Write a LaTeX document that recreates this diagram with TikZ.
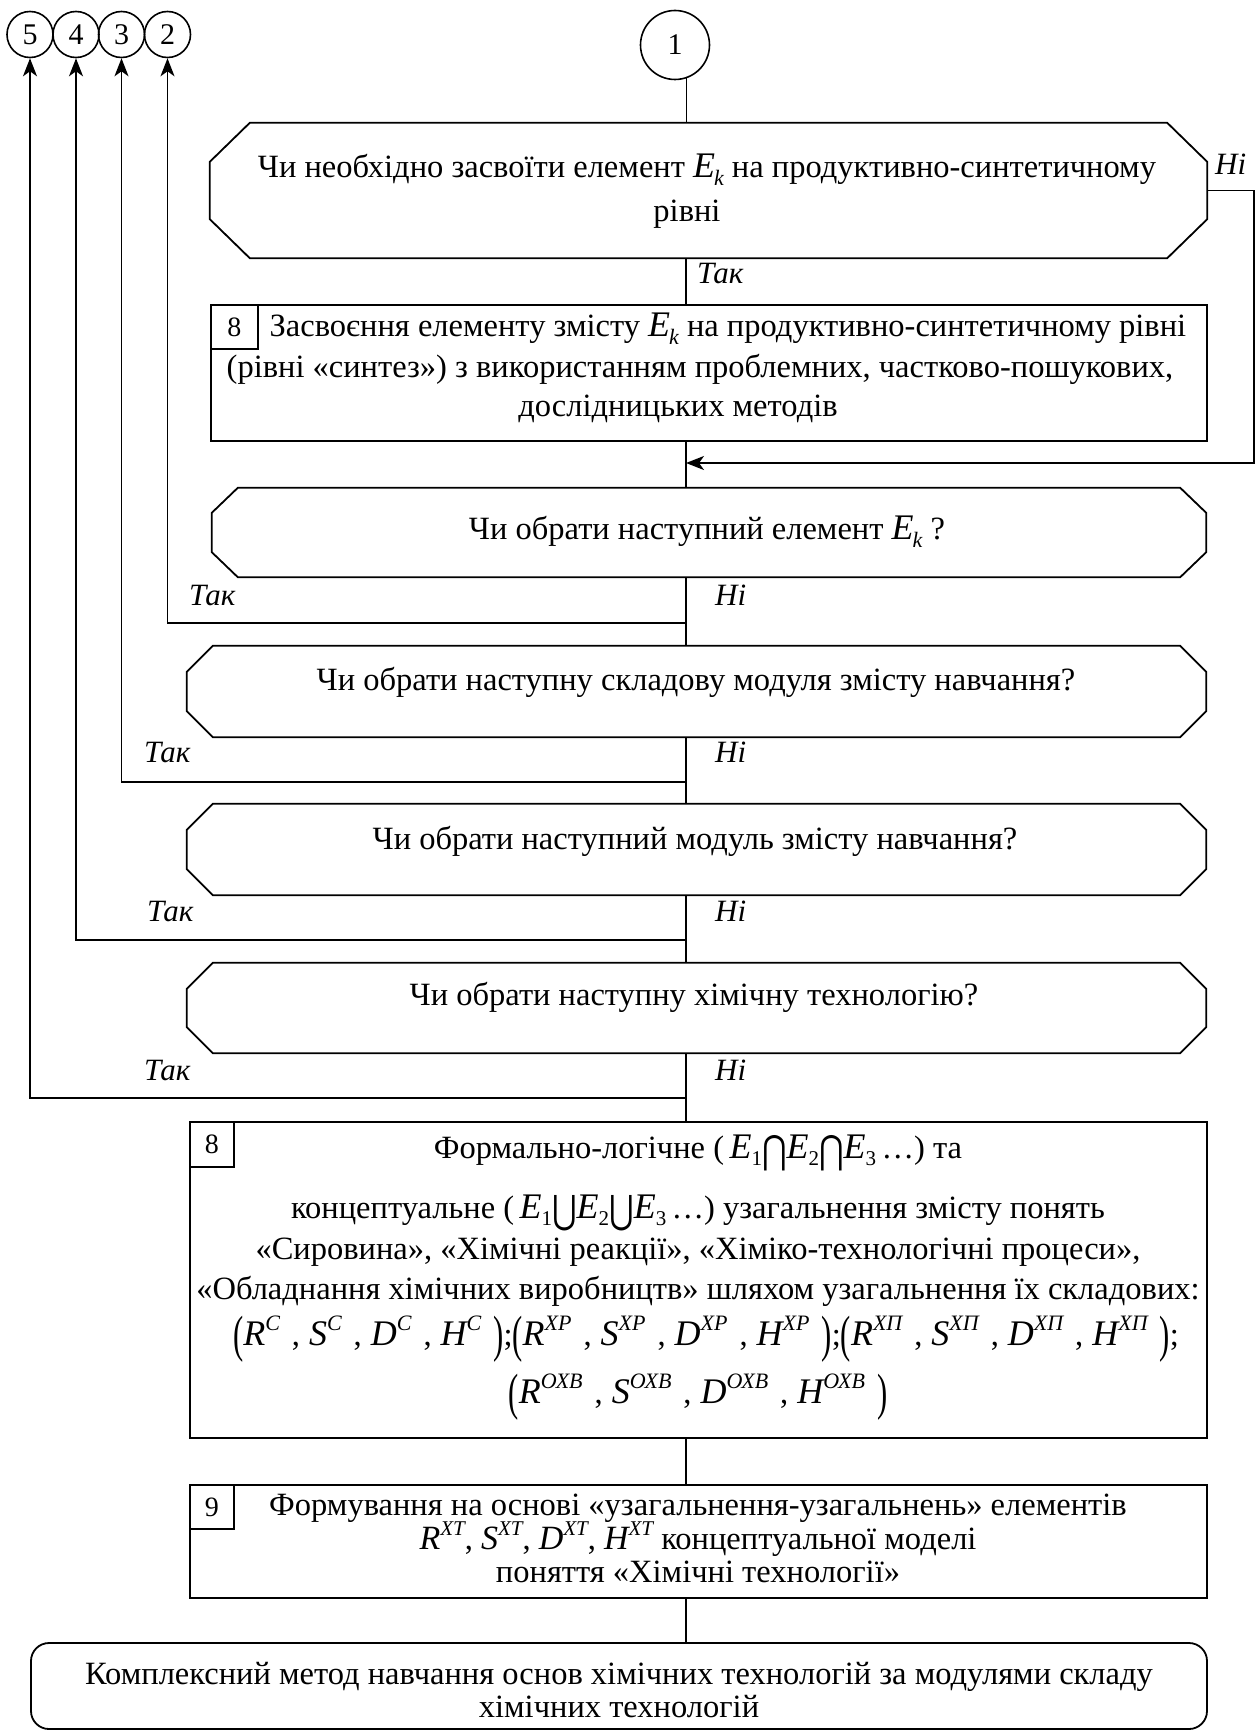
\documentclass[tikz,border=0pt]{standalone}
\usepackage{graphicx}
\usepackage{fontspec}
\setmainfont{Liberation Serif}
\newfontfamily\symfont{DejaVu Sans}
\usetikzlibrary{arrows.meta,calc}

% italic letters, indices and operators used in the formulas
\newcommand\Vi[1]{{\itshape\fontsize{36}{36}\selectfont #1}}
\newcommand\Vm[1]{{\itshape\fontsize{34}{34}\selectfont #1}}
\newcommand\Up[1]{\raisebox{15pt}{\itshape\fontsize{22}{22}\selectfont #1}}
\newcommand\Us[1]{\raisebox{14pt}{\itshape\fontsize{21}{21}\selectfont #1}}
\newcommand\Dn[1]{\raisebox{-7pt}{\fontsize{21}{21}\selectfont #1}}
\newcommand\Ek{\Vi{E}\kern-1pt\raisebox{-8pt}{\itshape\fontsize{22}{22}\selectfont k}}
\newcommand\Item[2]{\Vi{#1}\Up{#2}\hspace{12pt}}
\newcommand\Cm{,\hspace{9pt}}
\newcommand\Cap{\raisebox{-5pt}{\scalebox{1}[1.3]{\symfont\fontsize{30}{30}\selectfont ⋂}}}
\newcommand\Cup{\raisebox{-5pt}{\scalebox{1}[1.3]{\symfont\fontsize{30}{30}\selectfont ⋃}}}
\newcommand\Lp{\raisebox{-6pt}{\scalebox{0.9}[1.5]{\fontsize{34}{34}\selectfont (}}}
\newcommand\Rp{\raisebox{-6pt}{\scalebox{0.9}[1.5]{\fontsize{34}{34}\selectfont )}}}
\newcommand\Grp[1]{\Lp#1\Rp}
\newcommand\Quad[1]{\Grp{\Item{R}{#1}\Cm\Item{S}{#1}\Cm\Item{D}{#1}\Cm\Item{H}{#1}}}

% octagonal decision outline around a named node: node, corner dx, corner dy
\newcommand\octo[3]{\draw[flow]
  ($(#1.north west)+(#2,0)$) -- ($(#1.north east)+(-#2,0)$) --
  ($(#1.north east)+(0,#3)$) -- ($(#1.south east)+(0,-#3)$) --
  ($(#1.south east)+(-#2,0)$) -- ($(#1.south west)+(#2,0)$) --
  ($(#1.south west)+(0,-#3)$) -- ($(#1.north west)+(0,#3)$) -- cycle;}

\begin{document}
\begin{tikzpicture}[x=1pt,y=-1pt,
  flow/.style={line width=1.8pt,line join=miter},
  arr/.style={flow,-{Stealth[length=18pt,width=14pt,inset=5pt]}},
  hole/.style={draw=none,rectangle,inner sep=0pt},
  box/.style={draw,rectangle,line width=1.8pt,inner sep=0pt},
  tag/.style={draw,rectangle,line width=1.6pt,inner sep=0pt,anchor=north west,
    font=\fontsize{28}{28}\selectfont},
  txt/.style={anchor=base,inner sep=0pt,font=\fontsize{32.5}{38}\selectfont},
  lab/.style={anchor=base west,inner sep=0pt,font=\fontsize{31}{34}\selectfont\itshape},
  conn/.style={draw,circle,line width=1.6pt,inner sep=0pt,font=\fontsize{30}{30}\selectfont}]

\useasboundingbox (0,0) rectangle (1258,1731);

% connector circles
\node[conn,minimum size=69pt] (c1) at (675,45) {1};
\node[conn,minimum size=46pt] (c5) at (30,34.5) {5};
\node[conn,minimum size=46pt] (c4) at (76,34.5) {4};
\node[conn,minimum size=46pt] (c3) at (121.5,34.5) {3};
\node[conn,minimum size=46pt] (c2) at (167.5,34.5) {2};

% shapes
\node[hole,minimum width=997pt,minimum height=135pt] (d1) at (708.5,190.5) {};
\octo{d1}{40}{39}
\node[box,minimum width=996pt,minimum height=136pt] (b1) at (709,373) {};
\node[hole,minimum width=994pt,minimum height=89pt] (d2) at (709,532.5) {};
\octo{d2}{26}{25}
\node[hole,minimum width=1019pt,minimum height=91pt] (d3) at (696.5,691.5) {};
\octo{d3}{26}{26}
\node[hole,minimum width=1019pt,minimum height=91pt] (d4) at (696.5,849.5) {};
\octo{d4}{26}{26}
\node[hole,minimum width=1019pt,minimum height=90pt] (d5) at (696.5,1008) {};
\octo{d5}{26}{26}
\node[box,minimum width=1017pt,minimum height=316pt] (b8) at (698.5,1280) {};
\node[box,minimum width=1017pt,minimum height=113pt] (b9) at (698.5,1541.5) {};
\node[box,rounded corners=18pt,minimum width=1176pt,minimum height=86pt] (term) at (619,1686) {};

% number tags
\node[tag,minimum width=47pt,minimum height=44pt] (t1) at (b1.north west) {8};
\node[tag,minimum width=44pt,minimum height=45pt] (t8) at (b8.north west) {8};
\node[tag,minimum width=44pt,minimum height=44pt] (t9) at (b9.north west) {9};

% texts
\node[txt] (d1a) at (707,178) {Чи необхідно засвоїти елемент \Ek\ на продуктивно-синтетичному};
\node[txt] (d1b) at (687,222) {рівні};
\node[txt] (b1a) at (728,336) {Засвоєння елементу змісту \Ek\ на продуктивно-синтетичному рівні};
\node[txt] (b1b) at (700,377) {(рівні «синтез») з використанням проблемних, частково-пошукових,};
\node[txt] (b1c) at (678,416) {дослідницьких методів};
\node[txt] (d2a) at (707,539) {Чи обрати наступний елемент \Ek\ ?};
\node[txt] (d3a) at (696,690) {Чи обрати наступну складову модуля змісту навчання?};
\node[txt] (d4a) at (695,849) {Чи обрати наступний модуль змісту навчання?};
\node[txt] (d5a) at (694,1005) {Чи обрати наступну хімічну технологію?};

\node[txt] (b8a) at (698,1158) {Формально-логічне (\,\Vi{E}\Dn{1}\Cap\Vi{E}\Dn{2}\Cap\Vi{E}\Dn{3}\,…) та};
\node[txt] (b8b) at (698,1218) {концептуальне (\,\Vi{E}\Dn{1}\Cup\Vi{E}\Dn{2}\Cup\Vi{E}\Dn{3}\,…) узагальнення змісту понять};
\node[txt] (b8c) at (698,1259) {«Сировина», «Хімічні реакції», «Хіміко-технологічні процеси»,};
\node[txt] (b8d) at (698,1299) {«Обладнання хімічних виробництв» шляхом узагальнення їх складових:};
\node[txt] (b8e) at (706,1345) {\Quad{С};\Quad{ХР};\Quad{ХП};};
\node[txt] (b8f) at (698,1403) {\Quad{ОХВ}};

\node[txt] (b9a) at (698,1515) {Формування на основі «узагальнення-узагальнень» елементів};
\node[txt] (b9b) at (698,1549) {\Vm{R}\Us{ХТ}, \Vm{S}\Us{ХТ}, \Vm{D}\Us{ХТ}, \Vm{H}\Us{ХТ} концептуальної моделі};
\node[txt] (b9c) at (698,1582) {поняття «Хімічні технології»};
\node[txt] (tma) at (619,1684) {Комплексний метод навчання основ хімічних технологій за модулями складу};
\node[txt] (tmb) at (619,1717) {хімічних технологій};

% branch labels
\node[lab] (tak1) at (697,283) {Так};
\node[lab] (ni1) at (1215,175) {Ні};
\node[lab] (tak2) at (189,605) {Так};
\node[lab] (ni2) at (715,605) {Ні};
\node[lab] (tak3) at (144,762) {Так};
\node[lab] (ni3) at (715,762) {Ні};
\node[lab] (tak4) at (147,921) {Так};
\node[lab] (ni4) at (715,921) {Ні};
\node[lab] (tak5) at (144,1080) {Так};
\node[lab] (ni5) at (715,1080) {Ні};

% main line
\coordinate (spine) at (686,0);
\draw[flow] (c1.-71) -- (c1.-71 |- d1.north);
\draw[flow] (d1.south -| spine) -- (b1.north -| spine);
\draw[flow] (b1.south -| spine) -- (d2.north -| spine);
\draw[flow] (d2.south -| spine) -- (d3.north -| spine);
\draw[flow] (d3.south -| spine) -- (d4.north -| spine);
\draw[flow] (d4.south -| spine) -- (d5.north -| spine);
\draw[flow] (d5.south -| spine) -- (b8.north -| spine);
\draw[flow] (b8.south -| spine) -- (b9.north -| spine);
\draw[flow] (b9.south -| spine) -- (term.north -| spine);

% "Ні" return loop of the first decision
\coordinate (j1) at (686,463);
\draw[arr] (d1.east) -- ++(47,0) |- (j1);

% "Так" branches to the connectors
\coordinate (y2) at (686,623);
\coordinate (y3) at (686,782);
\coordinate (y4) at (686,940);
\coordinate (y5) at (686,1098);
\draw[arr] (y2) -| (c2.south);
\draw[arr] (y3) -| (c3.south);
\draw[arr] (y4) -| (c4.south);
\draw[arr] (y5) -| (c5.south);
\end{tikzpicture}
\end{document}
